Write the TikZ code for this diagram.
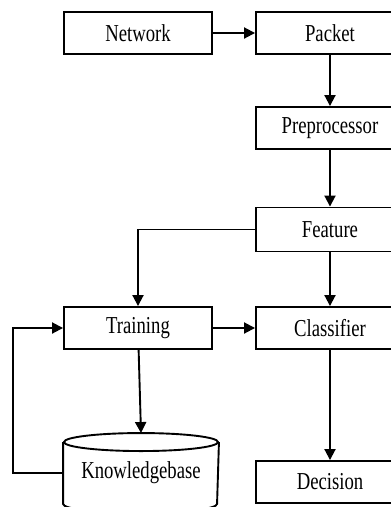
\documentclass[tikz,border=0pt]{standalone}
\usepackage{fontspec}
\setmainfont{Liberation Serif}
\usetikzlibrary{arrows.meta}
\newcommand\lbl[1]{\raisebox{-2.5pt}{\scalebox{1}[1.3]{#1}}}
\begin{document}
\begin{tikzpicture}[x=1pt,y=-1pt,line width=1.9pt,
  box/.style={draw,rectangle,minimum width=148pt,minimum height=42pt,inner sep=0pt,font=\fontsize{18.7}{20}\selectfont},
  arr/.style={-{Triangle[length=11pt,width=11pt]}}]
\useasboundingbox (0,0) rectangle (391,507);
\clip (0,0) rectangle (391,507);
\node[box] (nw) at (138,33) {\lbl{Network}};
\node[box] (pk) at (330,33) {\lbl{Packet}};
\node[box] (pp) at (330,128) {\lbl{Preprocessor}};
\node[box,minimum height=44pt] (fe) at (330,229.5) {\lbl{Feature}};
\node[box] (tr) at (138,328) {\lbl{Training}};
\node[box] (cl) at (330,328) {\lbl{Classifier}};
\node[box] (de) at (330,482) {\lbl{Decision}};
\node[box,draw=none,minimum width=154pt,minimum height=78pt] (kb) at (141,473) {\lbl{Knowledgebase}};
% cylinder outline
\draw ([yshift=-9pt]kb.north) ellipse [x radius=77pt,y radius=9pt];
\draw ([yshift=-9pt]kb.north west) -- ([yshift=9pt]kb.south west)
  arc[start angle=180,end angle=360,x radius=77pt,y radius=9pt]
  -- ([yshift=-9pt]kb.north east);
% connectors
\draw[arr] (nw) -- (pk);
\draw[arr] (pk) -- (pp);
\draw[arr] (pp) -- (fe);
\draw[arr] (fe) -- (cl);
\draw[arr] (fe.west) -| (tr.north);
\draw[arr] (tr) -- (cl);
\draw[arr] (tr) -- (kb.north);
\draw[arr] (cl) -- (de);
\draw[arr] (kb.west) -- ++(-50,0) |- (tr.west);
\end{tikzpicture}
\end{document}
